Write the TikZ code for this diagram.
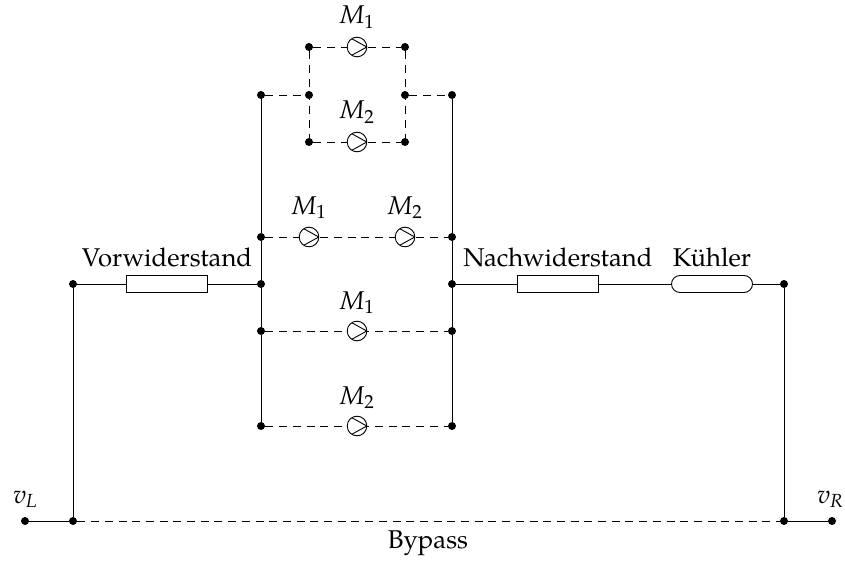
\documentclass[tikz,border=0pt]{standalone}
\usepackage{fontspec}
\setmainfont{TeX Gyre Pagella}
\tikzset{
  x=0.5pt,y=-0.5pt,
  conn/.style={line width=0.45pt,black},
  dashconn/.style={line width=0.45pt,black,dash pattern=on 4pt off 2.85pt},
  dotn/.style={circle,fill=black,inner sep=0pt,minimum size=4pt},
  pumpn/.style={circle,draw=black,fill=white,line width=0.45pt,inner sep=0pt,minimum size=9.8pt,
    path picture={\draw[line width=0.45pt] (path picture bounding box.east) -- ++(-7.8pt,4.3pt)
      (path picture bounding box.east) -- ++(-7.8pt,-4.3pt);}},
  resn/.style={rectangle,draw=black,fill=white,line width=0.45pt,inner sep=0pt,minimum width=40.5pt,minimum height=8.5pt},
  coolern/.style={rectangle,rounded corners=4.25pt,draw=black,fill=white,line width=0.45pt,inner sep=0pt,minimum width=40.5pt,minimum height=8.5pt},
  lab/.style={inner sep=0pt,anchor=base,font=\fontsize{12.85}{15}\selectfont}
}
\newcommand{\mylab}[2]{\textit{#1}\raisebox{-0.35ex}{\fontsize{9.5}{11}\selectfont #2}}
\newcommand{\myvlab}[2]{\textit{#1}\raisebox{-0.35ex}{\fontsize{9.5}{11}\selectfont\textit{#2}}}
\begin{document}
\begin{tikzpicture}
\useasboundingbox (0,0) rectangle (845,561);
% dots
\foreach \n/\x/\y in {tl/309/47,tr/405/47,ml/309/95,mr/405/95,bl/309/142,br/405/142,
  a1/261/95,a2/261/237,a3/261/284,a4/261/331,a5/261/426,
  b1/452/95,b2/452/237,b3/452/284,b4/452/331,b5/452/426,
  l1/73/284,l2/73/521,l0/25/521,r1/784/284,r2/784/521,r0/832/521}
  \node[dotn] (\n) at (\x,\y) {};
% solid
\draw[conn] (a1)--(a2)--(a3)--(a4)--(a5);
\draw[conn] (b1)--(b2)--(b3)--(b4)--(b5);
\draw[conn] (l1)--(l2);
\draw[conn] (r1)--(r2);
\draw[conn] (l0)--(l2);
\draw[conn] (r2)--(r0);
\draw[conn] (l1)--(a3);
\draw[conn] (b3)--(r1);
% dashed
\draw[dashconn] (a1)--(ml);
\draw[dashconn] (mr)--(b1);
\draw[dashconn] (tl)--(tr);
\draw[dashconn] (bl)--(br);
\draw[dashconn] (tl)--(bl);
\draw[dashconn] (tr)--(br);
\draw[dashconn] (a2)--(b2);
\draw[dashconn] (a4)--(b4);
\draw[dashconn] (a5)--(b5);
\draw[dashconn] (l2)--(r2);
% elements
\node[pumpn] (p1) at (357,47) {};
\node[pumpn] (p2) at (357,142) {};
\node[pumpn] (p3) at (309,237) {};
\node[pumpn] (p4) at (405,237) {};
\node[pumpn] (p5) at (357,331) {};
\node[pumpn] (p6) at (357,426) {};
\node[resn] (rv) at (167,284) {};
\node[resn] (rn) at (558,284) {};
\node[coolern] (ku) at (712,284) {};
% labels
\node[lab] (t1) at (357,24) {\mylab{M}{1}};
\node[lab] (t2) at (357,119) {\mylab{M}{2}};
\node[lab] (t3) at (309,214) {\mylab{M}{1}};
\node[lab] (t4) at (405,214) {\mylab{M}{2}};
\node[lab] (t5) at (357,309) {\mylab{M}{1}};
\node[lab] (t6) at (357,404) {\mylab{M}{2}};
\node[lab] (tv) at (167,266) {Vorwiderstand};
\node[lab] (tn) at (558,266) {Nachwiderstand};
\node[lab] (tk) at (712,266) {Kühler};
\node[lab] (tl0) at (25,503) {\myvlab{v}{L}};
\node[lab] (tr0) at (830,503) {\myvlab{v}{R}};
\node[lab] (tb) at (428,548) {Bypass};
\end{tikzpicture}
\end{document}
